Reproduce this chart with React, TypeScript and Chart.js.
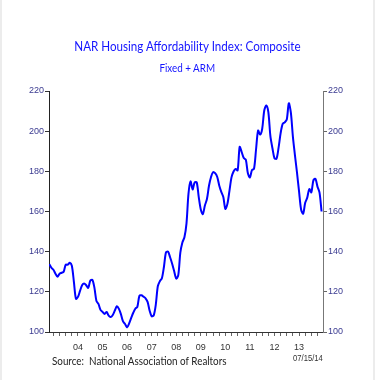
import React, { useEffect, useRef } from "react";
import { Chart, registerables } from "chart.js";

Chart.register(...registerables);

// Monthly NAR Housing Affordability Index (Composite), May 2003 onward
const START_YEAR = 2003;
const START_MONTH = 5;
const affordability: number[] = [
  133.8, 132, 131, 129, 127.5, 129, 129.5, 130, 133.5, 133.5, 134.5, 133,
  125, 116.5, 117.5, 120.5, 123.3, 124.2, 123.3, 122, 125.5, 126, 122.2, 115.5,
  114, 111, 110, 109, 110, 108.1, 107.5, 108.5, 110.7, 112.8, 111.5, 108.8,
  105.3, 104, 102.3, 104.3, 107, 109.6, 111.6, 112.5, 118, 118.3, 117.6, 116.8,
  115, 110.6, 107.8, 108.3, 113.5, 122.8, 125.3, 126.8, 132.5, 139.7, 140, 137.2,
  134, 130.2, 126.6, 128.3, 139.5, 144.6, 147.2, 154, 169, 175, 171, 174.5,
  174.5, 167.2, 161, 158.7, 163, 166.2, 172.8, 177.2, 179.6, 179.1, 177.3, 173,
  169.8, 167.2, 161.3, 163.8, 170.3, 177, 179.9, 181.2, 180.5, 192.2, 189.5, 186.6,
  185.8, 179, 177, 180.6, 181.3, 191, 200.3, 198.3, 201.2, 210.3, 212.8, 209.5,
  197.5, 191.5, 186.5, 186.3, 191.8, 199, 203.6, 204.4, 205.8, 213.9, 209.2, 197.2,
  188, 179.3, 170, 161, 158.9, 164.3, 166.9, 171.2, 169.5, 175.5, 176.3, 172.4,
  169.4, 160,
];
const yearLabels = ["04", "05", "06", "07", "08", "09", "10", "11", "12", "13"];
const firstLabelYear = 2004;
const yMin = 100;
const yMax = 220;
const yStep = 20;

const tickFont = { family: "'Liberation Sans', Arial, sans-serif", size: 9 };
const tickColor = "#3a3a90";

export default function App() {
  const ref = useRef<HTMLCanvasElement>(null);

  useEffect(() => {
    document.body.style.margin = "0";
    const points = affordability.map((v, i) => ({
      x: START_YEAR + (START_MONTH - 1 + i) / 12,
      y: v,
    }));
    const chart = new Chart(ref.current!, {
      type: "line",
      data: {
        datasets: [
          {
            data: points,
            borderColor: "#0000ff",
            borderWidth: 2,
            pointRadius: 0,
            tension: 0.3,
            yAxisID: "y",
          },
        ],
      },
      options: {
        animation: false,
        responsive: false,
        maintainAspectRatio: false,
        layout: { padding: { top: 91, left: 0, right: 0, bottom: 0 } },
        plugins: { legend: { display: false }, tooltip: { enabled: false } },
        scales: {
          x: {
            type: "linear",
            min: 2003.32,
            max: 2014.475,
            afterBuildTicks: (s: any) => {
              const t: any[] = [];
              for (let k = 0; k <= 43; k++) t.push({ value: 2003.5 + k * 0.25 });
              s.ticks = t;
            },
            afterFit: (s: any) => {
              s.height = 48;
            },
            grid: { drawOnChartArea: false, tickLength: 4, color: "#666", lineWidth: 1 },
            border: { color: "#333", width: 1 },
            ticks: {
              autoSkip: false,
              maxRotation: 0,
              padding: 6,
              color: "#333",
              font: { family: "'Liberation Sans', Arial, sans-serif", size: 9 },
              callback: (v: any) => {
                const val = Number(v);
                const frac = val - Math.floor(val);
                if (Math.abs(frac - 0.5) > 1e-6) return "";
                const idx = Math.floor(val) - firstLabelYear;
                return idx >= 0 && idx < yearLabels.length ? yearLabels[idx] : "";
              },
            },
          },
          y: {
            position: "left",
            min: yMin,
            max: yMax,
            afterFit: (s: any) => {
              s.width = 49;
            },
            grid: { drawOnChartArea: false, tickLength: 4, color: "#333" },
            border: { color: "#222", width: 1 },
            ticks: { stepSize: yStep, padding: 1, color: tickColor, font: tickFont },
          },
          y2: {
            position: "right",
            min: yMin,
            max: yMax,
            afterFit: (s: any) => {
              s.width = 52;
            },
            grid: { drawOnChartArea: false, tickLength: 4, color: "#666" },
            border: { color: "#777", width: 1 },
            ticks: { stepSize: yStep, padding: 1, color: tickColor, font: tickFont },
          },
        },
      },
    });
    return () => chart.destroy();
  }, []);

  return (
    <div
      style={{
        position: "relative",
        width: 375,
        height: 380,
        background: "#fff",
        overflow: "hidden",
      }}
    >
      <canvas ref={ref} width={375} height={380} style={{ display: "block" }} />
      <div
        style={{
          position: "absolute",
          left: 0,
          top: 37,
          width: 375,
          textAlign: "center",
          fontFamily: "Lato, 'Open Sans', sans-serif",
          fontSize: 14,
          lineHeight: "18px",
          color: "#1414ff",
          transform: "scaleX(0.83)",
          transformOrigin: "187px 0",
          whiteSpace: "nowrap",
        }}
      >
        NAR Housing Affordability Index: Composite
      </div>
      <div
        style={{
          position: "absolute",
          left: 0,
          top: 60,
          width: 375,
          textAlign: "center",
          fontFamily: "Lato, 'Open Sans', sans-serif",
          fontSize: 12,
          lineHeight: "16px",
          color: "#1414ff",
          transform: "scaleX(0.82)",
          transformOrigin: "186px 0",
          whiteSpace: "nowrap",
        }}
      >
        Fixed + ARM
      </div>
      <div
        style={{
          position: "absolute",
          left: 52,
          top: 352,
          fontFamily: "Lato, sans-serif",
          fontSize: 12,
          lineHeight: "18px",
          color: "#222",
          whiteSpace: "pre",
          transform: "scaleX(0.82)",
          transformOrigin: "0 0",
        }}
      >
        {"Source:  National Association of Realtors"}
      </div>
      <div
        style={{
          position: "absolute",
          left: 293,
          top: 352,
          fontFamily: "'Liberation Sans', Arial, sans-serif",
          fontSize: 9,
          lineHeight: "12px",
          color: "#333",
          transform: "scaleX(0.85)",
          transformOrigin: "0 0",
          whiteSpace: "nowrap",
        }}
      >
        07/15/14
      </div>
      <div style={{ position: "absolute", left: 0, top: 0, width: 2, height: 380, background: "#ececec" }} />
      <div style={{ position: "absolute", right: 0, top: 0, width: 2, height: 380, background: "#ececec" }} />
    </div>
  );
}
